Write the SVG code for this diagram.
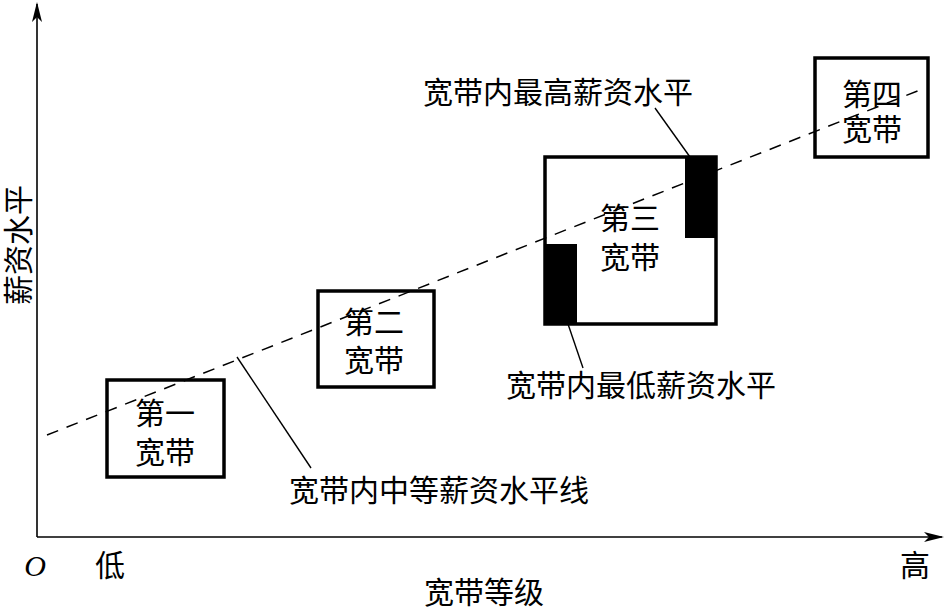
<svg xmlns="http://www.w3.org/2000/svg" width="946" height="609" viewBox="0 0 946 609">
<style>
text{font-family:"Liberation Serif","Noto Sans CJK SC",serif;font-size:30px;fill:#000}
.c{text-anchor:middle}
.box{fill:#fff;stroke:#000;stroke-width:3.5}
.ax{stroke:#000;stroke-width:1.6;fill:none}
.ld{stroke:#000;stroke-width:1.4;fill:none}
</style>
<defs>
<marker id="ar" viewBox="0 0 20 10" refX="18" refY="5" markerWidth="20" markerHeight="10" markerUnits="userSpaceOnUse" orient="auto">
<path d="M0,0 L20,5 L0,10 L5,5 Z" fill="#000"/>
</marker>
</defs>
<g id="axes">
<line class="ax" x1="37" y1="537" x2="37" y2="4" marker-end="url(#ar)"/>
<line class="ax" x1="37" y1="537" x2="942" y2="537" marker-end="url(#ar)"/>
<text x="35" y="576" font-style="italic" class="c">O</text>
<text x="110" y="576" class="c">低</text>
<text x="915" y="576" class="c">高</text>
<text x="484" y="603" class="c">宽带等级</text>
<text transform="translate(29,245) rotate(-90)" class="c">薪资水平</text>
</g>
<g id="band1"><rect class="box" x="107" y="380" width="117" height="97"/></g>
<g id="band2"><rect class="box" x="318" y="291" width="116" height="96"/></g>
<g id="band3"><rect class="box" x="545" y="157" width="171" height="167"/>
<rect x="685" y="157" width="32" height="81" fill="#000"/>
<rect x="544" y="244" width="33" height="81" fill="#000"/></g>
<g id="band4"><rect class="box" x="815" y="58" width="113" height="99"/></g>
<g id="connectors">
<line x1="47" y1="435" x2="920" y2="90" stroke="#000" stroke-width="1.5" stroke-dasharray="12,9"/>
<line class="ld" x1="237" y1="357" x2="311" y2="468"/>
<line class="ld" x1="655" y1="108" x2="690" y2="157"/>
<line class="ld" x1="568" y1="324" x2="583" y2="368"/>
</g>
<g id="labels">
<text x="165" y="424" class="c">第一</text>
<text x="165" y="463" class="c">宽带</text>
<text x="374" y="333" class="c">第二</text>
<text x="374" y="371" class="c">宽带</text>
<text x="630" y="229" class="c">第三</text>
<text x="630" y="268" class="c">宽带</text>
<text x="872" y="105" class="c">第四</text>
<text x="872" y="140" class="c">宽带</text>
<text x="558" y="103" class="c">宽带内最高薪资水平</text>
<text x="641" y="396" class="c">宽带内最低薪资水平</text>
<text x="439" y="501" class="c">宽带内中等薪资水平线</text>
</g>
</svg>
